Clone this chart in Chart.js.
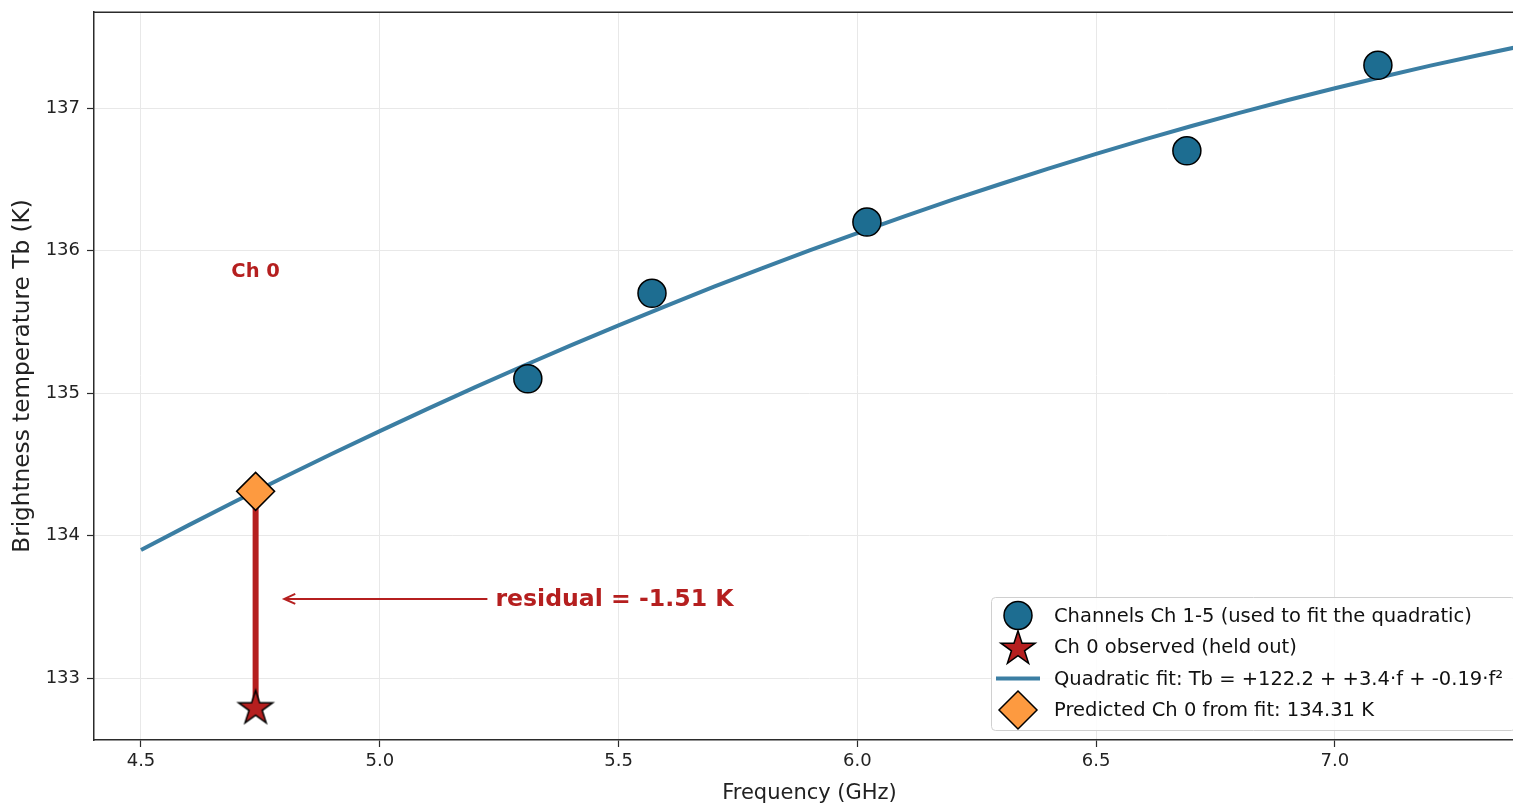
<!DOCTYPE html>
<html><head><meta charset="utf-8">
<script src="https://cdn.jsdelivr.net/npm/chart.js@4/dist/chart.umd.min.js"></script>
<style>
html,body{margin:0;padding:0;background:#fff;overflow:hidden;width:1513px;height:806px;}
#wrap{position:relative;width:1540px;height:806px;}
</style></head><body>
<div id="wrap"><canvas id="c"></canvas></div>
<script>
// ---- data ----
const channelFreq = [5.31, 5.57, 6.02, 6.69, 7.09];
const channelTb   = [135.10, 135.70, 136.20, 136.70, 137.30];
const ch0Freq      = [4.74];
const ch0Observed  = [132.80];
const ch0Predicted = [134.31];
const fitFreq = [4.5,4.6,4.7,4.8,4.9,5.0,5.1,5.2,5.3,5.4,5.5,5.6,5.7,5.8,5.9,6.0,6.1,6.2,6.3,6.4,6.5,6.6,6.7,6.8,6.9,7.0,7.1,7.2,7.3,7.4];
const fitTb   = [133.898,134.073,134.244,134.411,134.574,134.733,134.889,135.041,135.190,135.334,135.475,135.612,135.746,135.875,136.001,136.123,136.242,136.357,136.467,136.575,136.678,136.778,136.874,136.966,137.055,137.139,137.220,137.298,137.371,137.441];
const xTicks = [4.5, 5.0, 5.5, 6.0, 6.5, 7.0];
const yTicks = [133, 134, 135, 136, 137];
const legendLabels = [
  'Channels Ch 1-5 (used to fit the quadratic)',
  'Ch 0 observed (held out)',
  'Quadratic fit: Tb = +122.2 + +3.4·f + -0.19·f²',
  'Predicted Ch 0 from fit: 134.31 K'
];
const ch0Label = 'Ch 0';
const residualLabel = 'residual = -1.51 K';
const xTitle = 'Frequency (GHz)';
const yTitle = 'Brightness temperature Tb (K)';

// ---- styles ----
const FONT = "'DejaVu Sans', sans-serif";
const C_CIRCLE = '#1d6d91';
const C_LINE = '#3b7ea3';
const C_RED = '#b51f1f';
const C_ORANGE = '#fd9a40';
const C_SPINE = '#2b2b2b';

function makeStar(R, fill){
  const s = Math.ceil(R*2 + 6);
  const c = document.createElement('canvas'); c.width = s; c.height = s;
  const g = c.getContext('2d'); const cx = s/2, cy = s/2 + R*0.095; const r = R*0.381966;
  g.beginPath();
  for (let i = 0; i < 10; i++) {
    const a = -Math.PI/2 + i*Math.PI/5; const rr = (i % 2) ? r : R;
    g.lineTo(cx + rr*Math.cos(a), cy + rr*Math.sin(a));
  }
  g.closePath(); g.fillStyle = fill; g.fill();
  g.lineWidth = 1.5; g.strokeStyle = '#000'; g.lineJoin = 'miter'; g.stroke();
  return c;
}
const starImg = makeStar(18, C_RED);

const pts = (xs, ys) => xs.map((x, i) => ({x: x, y: ys[i]}));

const decor = {
  id: 'decor',
  afterDatasetsDraw(chart){
    const ctx = chart.ctx, a = chart.chartArea;
    const xs = chart.scales.x, ys = chart.scales.y;
    ctx.save();
    // top & right spines
    ctx.strokeStyle = C_SPINE; ctx.lineWidth = 1.5;
    ctx.beginPath(); ctx.moveTo(a.left, a.top + 0.25); ctx.lineTo(a.right, a.top + 0.25); ctx.lineTo(a.right, a.bottom); ctx.stroke();

    // Ch 0 label
    ctx.fillStyle = C_RED; ctx.font = "bold 19.5px " + FONT;
    ctx.textAlign = 'center'; ctx.textBaseline = 'middle';
    ctx.fillText(ch0Label, xs.getPixelForValue(ch0Freq[0]), ys.getPixelForValue(135.85));

    // residual annotation
    const yMid = ys.getPixelForValue((ch0Predicted[0] + ch0Observed[0]) / 2);
    const textX = xs.getPixelForValue(ch0Freq[0] + 0.5);
    const tipX = xs.getPixelForValue(ch0Freq[0] + 0.06);
    ctx.strokeStyle = C_RED; ctx.lineWidth = 2; ctx.lineCap = 'butt';
    ctx.beginPath(); ctx.moveTo(textX - 7, yMid); ctx.lineTo(tipX, yMid); ctx.stroke();
    ctx.beginPath(); ctx.moveTo(tipX + 11, yMid - 5); ctx.lineTo(tipX, yMid); ctx.lineTo(tipX + 11, yMid + 5); ctx.stroke();
    ctx.font = "bold 23.6px " + FONT; ctx.textAlign = 'left'; ctx.fillStyle = C_RED;
    ctx.fillText(residualLabel, textX + 1, yMid + 1);

    // legend
    const fr = a.right - 10, fb = a.bottom - 10, fl = 991, ft = 597;
    ctx.beginPath();
    ctx.roundRect(fl + 0.5, ft + 0.5, fr - fl, fb - ft, 4);
    ctx.fillStyle = 'rgba(255,255,255,0.85)'; ctx.fill();
    ctx.strokeStyle = '#d0d0d0'; ctx.lineWidth = 1; ctx.stroke();
    const rowY = [615.5, 647, 678.5, 710];
    const mx = 1018;
    ctx.beginPath(); ctx.arc(mx, rowY[0], 14, 0, Math.PI*2);
    ctx.fillStyle = C_CIRCLE; ctx.fill(); ctx.lineWidth = 1.5; ctx.strokeStyle = '#000'; ctx.stroke();
    ctx.drawImage(starImg, mx - starImg.width/2, rowY[1] - starImg.height/2);
    ctx.beginPath(); ctx.moveTo(996, rowY[2]); ctx.lineTo(1040, rowY[2]);
    ctx.strokeStyle = C_LINE; ctx.lineWidth = 4; ctx.stroke();
    ctx.beginPath(); ctx.moveTo(mx, rowY[3] - 19); ctx.lineTo(mx + 19, rowY[3]); ctx.lineTo(mx, rowY[3] + 19); ctx.lineTo(mx - 19, rowY[3]); ctx.closePath();
    ctx.fillStyle = C_ORANGE; ctx.fill(); ctx.lineWidth = 1.5; ctx.strokeStyle = '#000'; ctx.stroke();
    ctx.fillStyle = '#111'; ctx.font = "19.5px " + FONT; ctx.textAlign = 'left'; ctx.textBaseline = 'middle';
    legendLabels.forEach((t, i) => ctx.fillText(t, 1054, rowY[i] + 1));
    ctx.restore();
  }
};

Chart.defaults.font.family = FONT;
new Chart(document.getElementById('c'), {
  type: 'scatter',
  data: {
    datasets: [
      { label: 'fit', data: pts(fitFreq, fitTb), showLine: true, borderColor: C_LINE, borderWidth: 4,
        pointRadius: 0, tension: 0, borderJoinStyle: 'round', order: 5 },
      { label: 'residual', data: [{x: ch0Freq[0], y: ch0Predicted[0]}, {x: ch0Freq[0], y: ch0Observed[0]}],
        showLine: true, borderColor: C_RED, borderWidth: 6, pointRadius: 0, order: 4 },
      { label: 'channels', data: pts(channelFreq, channelTb), pointStyle: 'circle', pointRadius: 14,
        backgroundColor: C_CIRCLE, borderColor: '#000', borderWidth: 1.5, order: 3 },
      { label: 'ch0 obs', data: pts(ch0Freq, ch0Observed), pointStyle: starImg, pointRadius: 18, order: 2 },
      { label: 'ch0 pred', data: pts(ch0Freq, ch0Predicted), pointStyle: 'rectRot', pointRadius: 19,
        backgroundColor: C_ORANGE, borderColor: '#000', borderWidth: 1.5, order: 1 }
    ]
  },
  options: {
    responsive: true, maintainAspectRatio: false, animation: false, devicePixelRatio: 1, events: [],
    layout: { autoPadding: false, padding: { left: 0, top: 12, right: 15, bottom: 0 } },
    plugins: { legend: { display: false }, tooltip: { enabled: false } },
    scales: {
      x: {
        type: 'linear', min: 4.4016, max: 7.398,
        afterFit(s){ s.height = 66; s.paddingLeft = 0; s.paddingRight = 0; },
        afterBuildTicks(s){ s.ticks = xTicks.map(v => ({value: v})); },
        ticks: { callback: v => Number(v).toFixed(1), color: '#222', font: { size: 18 }, padding: 4, maxRotation: 0 },
        grid: { color: '#e8e8e8', lineWidth: 1, tickColor: C_SPINE, tickLength: 7, tickWidth: 1.2 },
        border: { display: true, color: C_SPINE, width: 1.5 },
        title: { display: true, text: xTitle, color: '#222', font: { size: 21 }, padding: { top: 0, bottom: 0 } }
      },
      y: {
        type: 'linear', min: 132.565, max: 137.674,
        afterFit(s){ s.width = 94; s.paddingTop = 0; s.paddingBottom = 0; },
        afterBuildTicks(s){ s.ticks = yTicks.map(v => ({value: v})); },
        ticks: { callback: v => String(v), color: '#222', font: { size: 18 }, padding: 7 },
        grid: { color: '#e8e8e8', lineWidth: 1, tickColor: C_SPINE, tickLength: 7, tickWidth: 1.2 },
        border: { display: true, color: C_SPINE, width: 1.5 },
        title: { display: true, text: yTitle, color: '#222', font: { size: 23.2 }, padding: { top: 9, bottom: 0 } }
      }
    }
  },
  plugins: [decor]
});
</script>
</body></html>
